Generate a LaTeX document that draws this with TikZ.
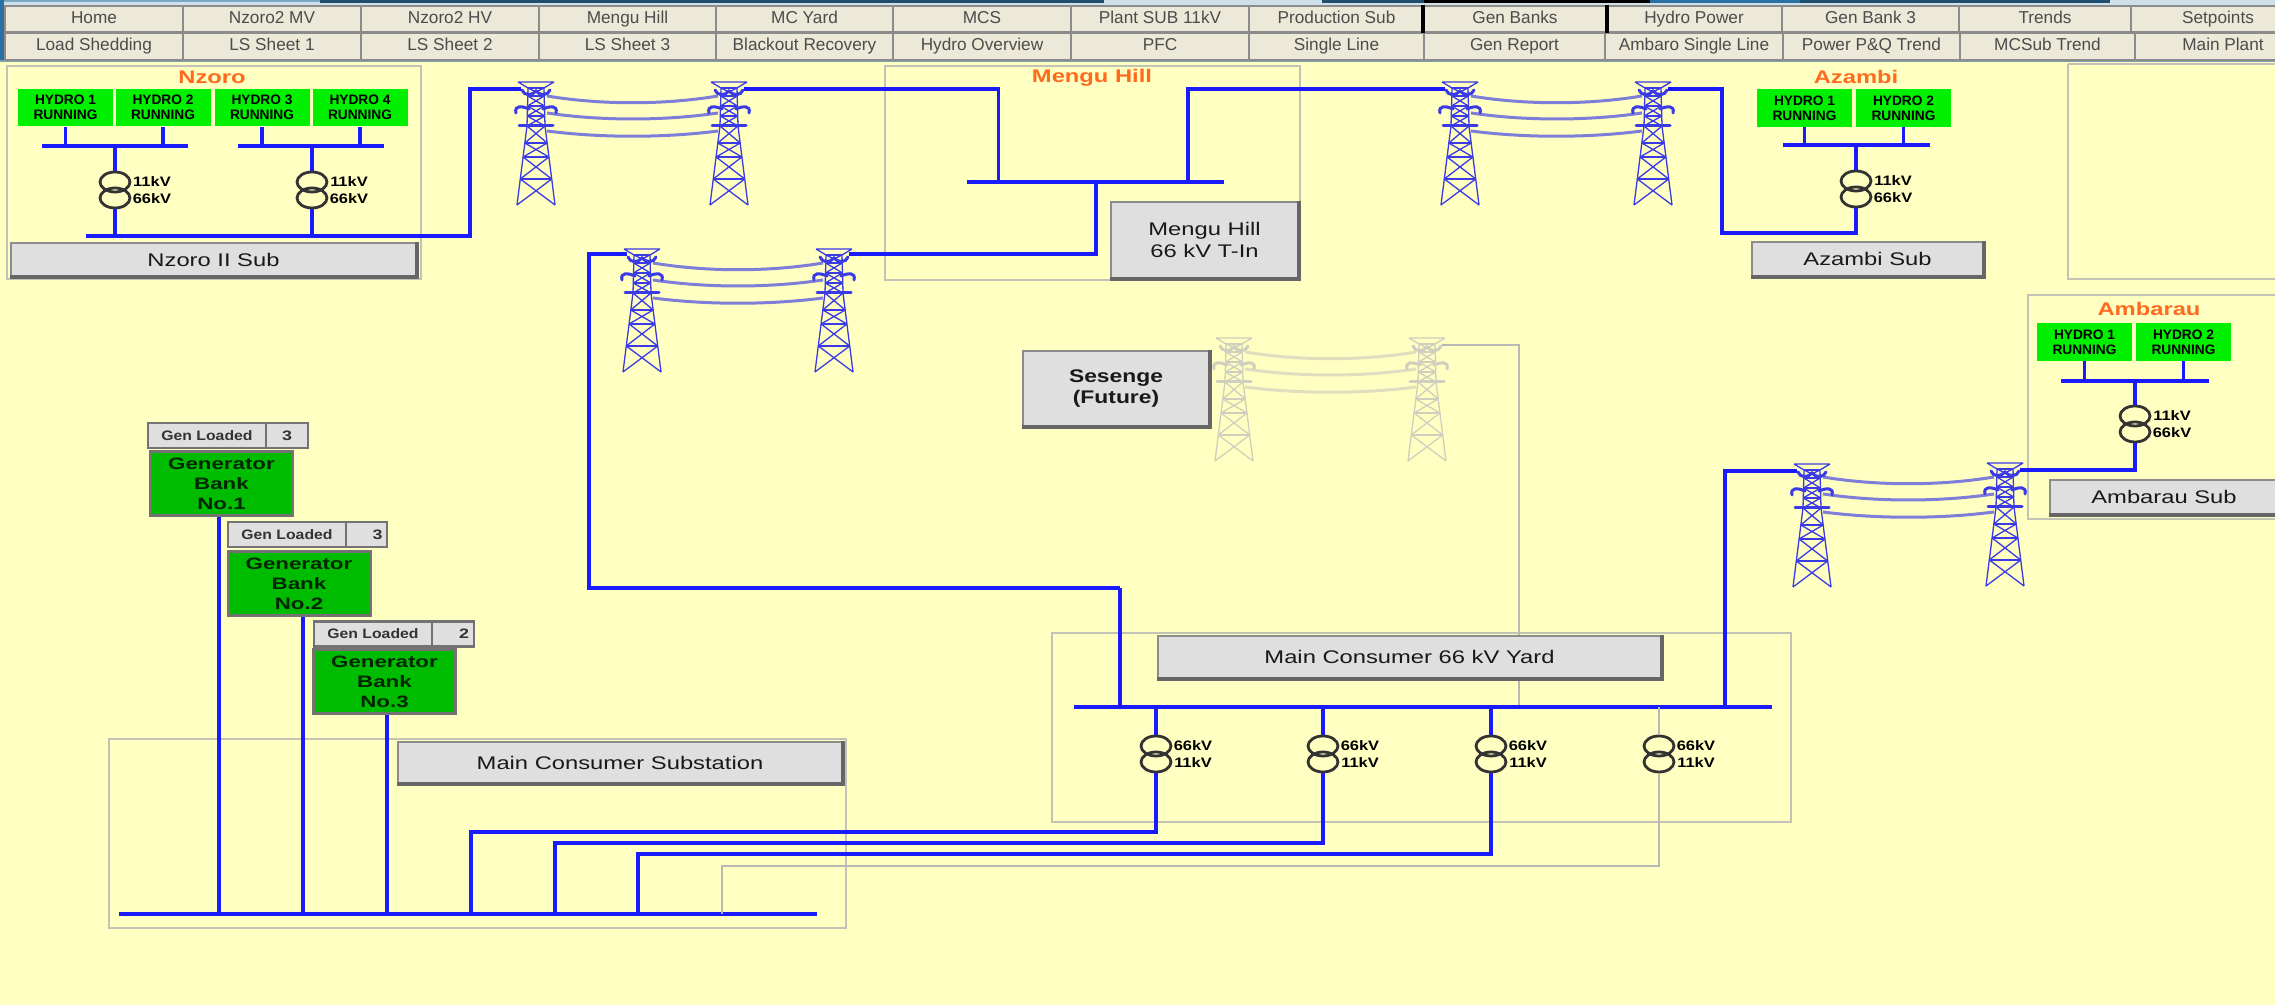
\documentclass[tikz,border=0pt]{standalone}
\usepackage{fontspec}
\setmainfont{Liberation Sans}
\usetikzlibrary{shapes.geometric}

\definecolor{yardyellow}{HTML}{FFFFC2}
\definecolor{busblue}{HTML}{1A1AFF}
\definecolor{pylonblue}{HTML}{3A3AE6}
\definecolor{pylongrey}{HTML}{CFCFC0}
\definecolor{deadgrey}{HTML}{B8B8B4}
\definecolor{framegrey}{HTML}{C2C2B6}
\definecolor{toolfill}{HTML}{ECE9D8}
\definecolor{btnfill}{HTML}{DFDFDF}
\definecolor{hydrogreen}{HTML}{00F000}
\definecolor{bankgreen}{HTML}{00BC00}
\definecolor{titleorange}{HTML}{FF6A1E}
\definecolor{barpale}{HTML}{CFE0E8}
\definecolor{bardark}{HTML}{1F4E6E}
\definecolor{baredge}{HTML}{2A70A0}
\definecolor{barline}{HTML}{7FA3AE}

\newcommand{\wtxt}[2][1.3]{\scalebox{#1}[1]{#2}}

\tikzset{
	line/.style={line width=.32mm,color=busblue},
	deadline/.style={line width=.25mm,color=deadgrey},
	frame/.style={line width=.25mm,color=framegrey},
	toolbtn/.style={draw=black!45,line width=.2mm,fill=toolfill,inner sep=0,text=black!70,text height=1.25mm,text depth=.4mm,font=\fontsize{4.9}{6}\selectfont},
	hydro/.style={fill=hydrogreen,inner sep=0,minimum width=9.5mm,minimum height=3.75mm,align=center,font=\fontsize{3.9}{4.3}\bfseries\selectfont},
	title/.style={inner sep=0,text=titleorange,font=\fontsize{5.2}{6}\bfseries\selectfont},
	btn/.style={draw=black!45,line width=.2mm,fill=btnfill,inner sep=0,align=center,text=black!90,font=\fontsize{5.2}{6}\selectfont},
	btnedge/.style={line width=.35mm,color=black!60},
	bank/.style={draw=black!55,line width=.3mm,fill=bankgreen,inner sep=0,minimum width=14.2mm,minimum height=6.4mm,align=center,text=black!85!green,font=\fontsize{4.7}{5.7}\bfseries\selectfont},
	loaded/.style={draw=black!55,line width=.22mm,fill=btnfill,inner sep=0,minimum height=2.5mm,text=black!80,font=\fontsize{3.9}{5}\bfseries\selectfont},
	coil/.style={draw=black!80,line width=.28mm,ellipse,inner sep=0,minimum width=3mm,minimum height=2mm},
	kv/.style={inner sep=0,font=\fontsize{3.9}{5}\bfseries\selectfont},
	pylonline/.style={line width=.13mm},
	pylonheavy/.style={line width=.3mm,line cap=round},
	wire/.style={line width=.3mm,opacity=.65},
}

% tower: name, x, y of the top, colour
\newcommand{\pylon}[4]{%
	\begin{scope}[shift={(#2,#3)},color=#4]
		\coordinate (#1l) at (-15,7);
		\coordinate (#1r) at (15,7);
		\draw[pylonline] (-8,6) -- (-9,44) -- (-19,123) (8,6) -- (9,44) -- (19,123);
		\draw[pylonline] (-18,0) -- (18,0) (-18,0) -- (-8,6) (18,0) -- (8,6);
		\foreach \yy/\w in {6/8,14/8.2,24/8.5,34/8.8,44/9,61/11.2,75/12.9,97/15.7}
			\draw[pylonline] (-\w,\yy) -- (\w,\yy);
		\foreach \ya/\wa/\yb/\wb in {6/8/14/8.2,14/8.2/24/8.5,24/8.5/34/8.8,34/8.8/44/9,44/9/61/11.2,61/11.2/75/12.9,75/12.9/97/15.7,97/15.7/123/19}
			\draw[pylonline] (-\wa,\ya) -- (\wb,\yb) (\wa,\ya) -- (-\wb,\yb);
		\draw[pylonheavy] (-14,8) .. controls (-12,14) and (-4,14) .. (0,9) .. controls (4,14) and (12,14) .. (14,8);
		\draw[pylonheavy] (-20,31) .. controls (-22,23) and (-14,24) .. (-7,27) (20,31) .. controls (22,23) and (14,24) .. (7,27);
		\draw[pylonheavy] (-17,44) -- (17,44);
	\end{scope}
}
% conductors between two towers: x left, x right, y of the top, colour
\newcommand{\spanwires}[4]{%
	\foreach \e/\m in {14/23,31/39,49/56}
		\draw[wire,color=#4] ({#1+11},{#3+\e}) .. controls ({#1+65},{#3+\m}) and ({#2-65},{#3+\m}) .. ({#2-11},{#3+\e});
}
% transformer: name, x, y of upper coil, upper text, lower text
\newcommand{\xfmr}[5]{%
	\node[coil] (#1a) at (#2,#3) {};
	\node[coil] (#1b) at (#2,#3+16) {};
	\node[kv] (#1u) at (#2+37,#3) {\wtxt[1.2]{#4}};
	\node[kv] (#1v) at (#2+37,#3+17) {\wtxt[1.2]{#5}};
}
% raised button: name, x, y, width, height, text
\newcommand{\panelbtn}[6]{%
	\node[btn,minimum width=#4*.1mm,minimum height=#5*.1mm] (#1) at (#2,#3) {#6};
	\draw[btnedge] (#1.south west) -- (#1.south east) -- (#1.north east);
}

\begin{document}
\begin{tikzpicture}[x=.1mm,y=-.1mm]
	\useasboundingbox (0,0) rectangle (2275,1005);
	\fill[yardyellow] (0,0) rectangle (2275,1005);

	% menu bar
	\fill[barpale] (0,0) rectangle (2275,6);
	\fill[bardark] (320,0) rectangle (1104,3);
	\fill[bardark] (1322,0) rectangle (1424,3);
	\fill[black] (1424,0) rectangle (1650,3);
	\fill[baredge] (1650,0) rectangle (1800,3);
	\fill[bardark] (1800,0) rectangle (2110,3);
	\fill[baredge!50!barpale] (0,0) rectangle (320,2);
	\fill[baredge] (0,0) rectangle (4,62);
	\fill[barline] (0,60) rectangle (2275,62);
	\foreach \a/\b/\t [count=\i] in {5/183/Home,183/361/Nzoro2 MV,361/539/Nzoro2 HV,539/716/Mengu Hill,716/893/MC Yard,893/1071/MCS,1071/1249/Plant SUB 11kV,1249/1424/Production Sub,1424/1606/Gen Banks,1606/1782/Hydro Power,1782/1959/Gen Bank 3,1959/2131/Trends,2131/2305/Setpoints}
		\node[toolbtn,minimum width={(\b-\a)*.1mm},minimum height=2.65mm] (menua\i) at ({(\a+\b)/2},19) {\t};
	\foreach \a/\b/\t [count=\i] in {5/183/Load Shedding,183/361/LS Sheet 1,361/539/LS Sheet 2,539/716/LS Sheet 3,716/893/Blackout Recovery,893/1071/Hydro Overview,1071/1249/PFC,1249/1424/Single Line,1424/1605/Gen Report,1605/1783/Ambaro Single Line,1783/1960/Power P\&Q Trend,1960/2135/MCSub Trend,2135/2311/Main Plant}
		\node[toolbtn,minimum width={(\b-\a)*.1mm},minimum height=2.65mm] (menub\i) at ({(\a+\b)/2},46.5) {\t};
	\draw[black,line width=.4mm] (menua9.north west) -- (menua9.south west) (menua9.north east) -- (menua9.south east);

	% frames
	\draw[frame] (7,66) rectangle (421,279);
	\draw[frame] (885,66) rectangle (1300,280);
	\draw[frame] (2068,64) -- (2068,279) -- (2300,279) (2068,64) -- (2300,64);
	\draw[frame] (2300,295) -- (2028,295) -- (2028,519) -- (2300,519);
	\draw[frame] (1052,633) rectangle (1791,822);
	\draw[frame] (109,739) rectangle (846,928);

	% towers
	\pylon{ta}{536}{82}{pylonblue}
	\pylon{tb}{729}{82}{pylonblue}
	\spanwires{536}{729}{82}{pylonblue}
	\pylon{tc}{642}{249}{pylonblue}
	\pylon{td}{834}{249}{pylonblue}
	\spanwires{642}{834}{249}{pylonblue}
	\pylon{te}{1460}{82}{pylonblue}
	\pylon{tf}{1653}{82}{pylonblue}
	\spanwires{1460}{1653}{82}{pylonblue}
	\pylon{tg}{1234}{338}{pylongrey}
	\pylon{th}{1427}{338}{pylongrey}
	\spanwires{1234}{1427}{338}{pylongrey}
	\pylon{ti}{1812}{464}{pylonblue}
	\pylon{tj}{2005}{463}{pylonblue}
	\spanwires{1812}{2005}{463}{pylonblue}

	% Nzoro
	\node[title] (nztitle) at (212,77) {\wtxt{Nzoro}};
	\node[hydro] (nz1) at (65.5,107.5) {HYDRO 1\\RUNNING};
	\node[hydro] (nz2) at (163,107.5) {HYDRO 2\\RUNNING};
	\node[hydro] (nz3) at (262,107.5) {HYDRO 3\\RUNNING};
	\node[hydro] (nz4) at (360,107.5) {HYDRO 4\\RUNNING};
	\coordinate (nzbusa) at (42,146);
	\coordinate (nzbusb) at (188,146);
	\coordinate (nzbusc) at (238,146);
	\coordinate (nzbusd) at (384,146);
	\coordinate (nzlow) at (86,236);
	\coordinate (nzturn) at (470,236);
	\xfmr{nzx}{115}{182}{11kV}{66kV}
	\xfmr{nzy}{312}{182}{11kV}{66kV}
	\draw[line] (nzbusa) -- (nzbusb) (nzbusc) -- (nzbusd);
	\foreach \n in {nz1,nz2,nz3,nz4}
		\draw[line] (\n.south) -- (\n.south |- nzbusa);
	\draw[line] (nzxa.north) -- (nzxa.north |- nzbusa) (nzya.north) -- (nzya.north |- nzbusa);
	\draw[line] (nzxb.south) -- (nzxb.south |- nzlow) (nzyb.south) -- (nzyb.south |- nzlow);
	\draw[line] (nzlow) -- (nzturn) -- (nzturn |- tal) -- (tal);
	\panelbtn{nzsub}{213.5}{259.5}{405}{33}{\wtxt{Nzoro II Sub}}

	% Mengu Hill
	\node[title] (mgtitle) at (1092,78) {\wtxt{Mengu Hill}};
	\coordinate (mgbusa) at (967,182);
	\coordinate (mgbusb) at (1224,182);
	\coordinate (mga) at (998.5,182);
	\coordinate (mgb) at (1188,182);
	\coordinate (mgc) at (1096,182);
	\coordinate (mgd) at (1096,254);
	\coordinate (cturn) at (589,254);
	\coordinate (cbot) at (589,588);
	\coordinate (cyard) at (1120,588);
	\draw[line] (mgbusa) -- (mgbusb);
	\draw[line] (tbr) -- (tbr -| mga) -- (mga);
	\draw[line] (tel) -- (tel -| mgb) -- (mgb);
	\draw[line] (mgc) -- (mgd) -- (mgd -| tdr);
	\draw[line] (tcl |- cturn) -- (cturn) -- (cbot) -- (cyard);
	\panelbtn{mgsub}{1204.5}{240}{187}{76}{\wtxt{Mengu Hill}\\\wtxt{66 kV T-In}}

	% Azambi
	\node[title] (aztitle) at (1856,77) {\wtxt{Azambi}};
	\node[hydro] (az1) at (1804.5,108) {HYDRO 1\\RUNNING};
	\node[hydro] (az2) at (1903.5,108) {HYDRO 2\\RUNNING};
	\coordinate (azbusa) at (1783,145);
	\coordinate (azbusb) at (1930,145);
	\coordinate (azlow) at (1856,233);
	\coordinate (azturn) at (1722,233);
	\xfmr{azx}{1856}{181}{11kV}{66kV}
	\draw[line] (azbusa) -- (azbusb);
	\draw[line] (az1.south) -- (az1.south |- azbusa) (az2.south) -- (az2.south |- azbusa);
	\draw[line] (azxa.north) -- (azxa.north |- azbusa);
	\draw[line] (azxb.south) -- (azlow) -- (azturn) -- (azturn |- tfr) -- (tfr);
	\panelbtn{azsub}{1867.5}{259}{231}{34}{\wtxt{Azambi Sub}}

	% Ambarau
	\node[title] (amtitle) at (2149,309) {\wtxt{Ambarau}};
	\node[hydro] (am1) at (2084.5,342) {HYDRO 1\\RUNNING};
	\node[hydro] (am2) at (2183.5,342) {HYDRO 2\\RUNNING};
	\coordinate (ambusa) at (2061,381);
	\coordinate (ambusb) at (2209,381);
	\coordinate (amlow) at (2135,470);
	\xfmr{amx}{2135}{416}{11kV}{66kV}
	\draw[line] (ambusa) -- (ambusb);
	\draw[line] (am1.south) -- (am1.south |- ambusa) (am2.south) -- (am2.south |- ambusa);
	\draw[line] (amxa.north) -- (amxa.north |- ambusa);
	\draw[line] (amxb.south) -- (amlow) -- (amlow -| tjr);
	\panelbtn{amsub}{2164}{497}{228}{34}{\wtxt{Ambarau Sub}}

	% Sesenge
	\panelbtn{sesenge}{1116}{388.5}{186}{75}{\bfseries\wtxt[1.25]{Sesenge}\\\bfseries\wtxt[1.25]{(Future)}}

	% Main Consumer 66 kV Yard
	\coordinate (ybusa) at (1074,707);
	\coordinate (ybusb) at (1772,707);
	\coordinate (ambturn) at (1725,707);
	\coordinate (sesturn) at (1519,707);
	\draw[deadline] (thr) -- (thr -| sesturn) -- (sesturn);
	\draw[line] (ybusa) -- (ybusb);
	\draw[line] (cyard) -- (cyard |- ybusa);
	\draw[line] (til) -- (til -| ambturn) -- (ambturn);
	\panelbtn{yard}{1409.5}{657}{503}{42}{\wtxt{Main Consumer 66 kV Yard}}
	\xfmr{ya}{1156}{746}{66kV}{11kV}
	\xfmr{yb}{1323}{746}{66kV}{11kV}
	\xfmr{yc}{1491}{746}{66kV}{11kV}
	\xfmr{yd}{1659}{746}{66kV}{11kV}

	% Main Consumer Substation
	\coordinate (mbusa) at (119,914);
	\coordinate (mbusb) at (817,914);
	\coordinate (feeda) at (471,832);
	\coordinate (feedb) at (555,843);
	\coordinate (feedc) at (638,854);
	\coordinate (feedd) at (722,866);
	\draw[line] (mbusa) -- (mbusb);
	\draw[line] (yaa.north) -- (yaa.north |- ybusa);
	\draw[line] (yba.north) -- (yba.north |- ybusa);
	\draw[line] (yca.north) -- (yca.north |- ybusa);
	\draw[line] (yab.south) -- (yab.south |- feeda) -- (feeda) -- (feeda |- mbusa);
	\draw[line] (ybb.south) -- (ybb.south |- feedb) -- (feedb) -- (feedb |- mbusa);
	\draw[line] (ycb.south) -- (ycb.south |- feedc) -- (feedc) -- (feedc |- mbusa);
	\draw[deadline] (yda.north) -- (yda.north |- ybusa);
	\draw[deadline] (ydb.south) -- (ydb.south |- feedd) -- (feedd) -- (feedd |- mbusa);
	\panelbtn{mcsub}{620}{762.5}{444}{41}{\wtxt{Main Consumer Substation}}

	% generator banks
	\node[bank] (gba) at (221.5,484) {\wtxt[1.35]{Generator}\\\wtxt[1.35]{Bank}\\\wtxt[1.35]{No.1}};
	\node[bank] (gbb) at (299,583.5) {\wtxt[1.35]{Generator}\\\wtxt[1.35]{Bank}\\\wtxt[1.35]{No.2}};
	\node[bank] (gbc) at (384.5,682) {\wtxt[1.35]{Generator}\\\wtxt[1.35]{Bank}\\\wtxt[1.35]{No.3}};
	\node[loaded,minimum width=11.8mm] (gla) at (207,435.5) {\wtxt[1.15]{Gen Loaded}};
	\node[loaded,minimum width=4.2mm] (vla) at (287,435.5) {\wtxt[1.3]{3}};
	\node[loaded,minimum width=11.8mm] (glb) at (287,534.5) {\wtxt[1.15]{Gen Loaded}};
	\node[loaded,minimum width=4.1mm,text width=3.2mm,align=right] (vlb) at (366.5,534.5) {\wtxt[1.3]{3}};
	\node[loaded,minimum width=11.8mm] (glc) at (373,634) {\wtxt[1.15]{Gen Loaded}};
	\node[loaded,minimum width=4.2mm,text width=3.2mm,align=right] (vlc) at (453,634) {\wtxt[1.3]{2}};
	\draw[line] ([xshift=-.25mm]gba.south) -- ([xshift=-.25mm]gba.south |- mbusa);
	\draw[line] ([xshift=.4mm]gbb.south) -- ([xshift=.4mm]gbb.south |- mbusa);
	\draw[line] ([xshift=.25mm]gbc.south) -- ([xshift=.25mm]gbc.south |- mbusa);
\end{tikzpicture}
\end{document}
